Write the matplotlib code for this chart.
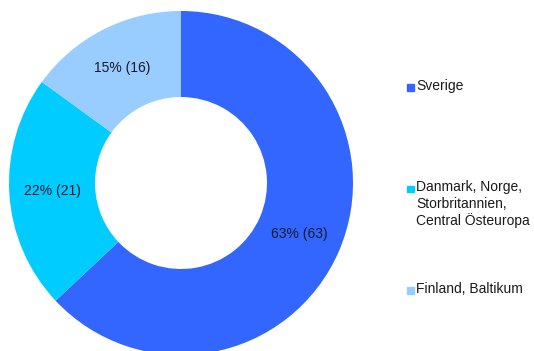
import matplotlib
matplotlib.use("Agg")
import matplotlib.pyplot as plt
import numpy as np
from matplotlib.patches import Rectangle

# Regional split, share of total (%) and count
regions = ["Sverige", "Danmark, Norge,\nStorbritannien,\nCentral Östeuropa", "Finland, Baltikum"]
shares = [63, 22, 15]
counts = [63, 21, 16]
colors = ["#3366FF", "#00CCFF", "#99CCFF"]

plt.rcParams.update({"font.family": ["Liberation Sans", "DejaVu Sans"], "font.size": 10})

W, H = 534, 351
fig = plt.figure(figsize=(W / 100, H / 100), dpi=100)

# donut centred at (181, 183) px, radius 172 px
cx, cy, r = 181, 183, 172
ax = fig.add_axes([(cx - r) / W, (H - cy - r) / H, 2 * r / W, 2 * r / H])
wedges, _ = ax.pie(shares, colors=colors, startangle=90, counterclock=False,
                   radius=1.0, wedgeprops=dict(width=0.5, linewidth=0))
ax.set_xlim(-1, 1)
ax.set_ylim(-1, 1)
ax.set_aspect("equal")
ax.axis("off")

for wedge, share, count in zip(wedges, shares, counts):
    mid = np.deg2rad((wedge.theta1 + wedge.theta2) / 2)
    ax.text(0.75 * np.cos(mid), 0.75 * np.sin(mid), f"{share}% ({count})",
            ha="center", va="center", color="#1a1a2a", fontsize=10)

# legend on the right, one entry every ~101 px
for i, (label, color) in enumerate(zip(regions, colors)):
    y = 87 + i * 101.5
    fig.patches.append(Rectangle((407 / W, 1 - (y + 3.5) / H), 6.5 / W, 6.5 / H,
                                 transform=fig.transFigure, color=color))
    fig.text(416 / W, 1 - (y - 8) / H, label, ha="left", va="top",
             color="#1a1a1a", fontsize=10, linespacing=1.2)

fig.savefig("out.png", dpi=100)
